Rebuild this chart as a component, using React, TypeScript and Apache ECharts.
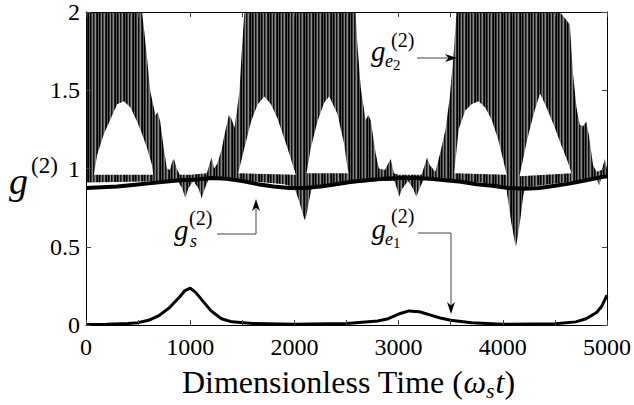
import React, { useEffect, useRef } from 'react';
import * as echarts from 'echarts';

// ---- data ----
const xLabelTicks = [0, 1000, 2000, 3000, 4000, 5000];
const yLabelTicks = [0, 0.5, 1, 1.5, 2];

// g_e2^(2): upper envelope of the fast oscillation (clipped at 2)
const ge2Upper: [number, number][] = [
  [0, 2], [538, 2], [570, 1.81], [618, 1.49], [666, 1.34], [690, 1.36], [712, 1.3], [746, 1.13],
  [777, 1.0], [805, 0.99], [830, 1.05], [845, 1.06], [870, 1.0], [900, 0.96], [1000, 0.96],
  [1160, 0.97], [1190, 1.04], [1207, 1.07], [1228, 1.0], [1260, 1.03], [1300, 1.12], [1340, 1.25],
  [1370, 1.34], [1395, 1.32], [1425, 1.26], [1450, 1.38], [1472, 1.49], [1500, 1.8], [1520, 2],
  [2588, 2], [2604, 1.8], [2636, 1.52], [2683, 1.31], [2710, 1.34], [2732, 1.31], [2779, 1.1],
  [2810, 1.0], [2870, 0.99], [2906, 1.04], [2925, 1.06], [2955, 0.97], [3000, 0.96], [3220, 0.96],
  [3250, 1.02], [3273, 1.07], [3300, 1.02], [3353, 0.98], [3400, 1.1], [3450, 1.25], [3490, 1.45],
  [3530, 1.75], [3555, 2], [4548, 2], [4643, 1.92], [4675, 1.6], [4707, 1.39], [4739, 1.28],
  [4770, 1.27], [4802, 1.3], [4830, 1.2], [4866, 1.02], [4900, 0.98], [4950, 0.99], [4980, 1.06],
  [5000, 1.0],
];

// g_e2^(2): lower envelope
const ge2Lower: [number, number][] = [
  [0, 0.91], [880, 0.92], [925, 0.87], [953, 0.81], [980, 0.87], [1030, 0.92], [1080, 0.87],
  [1110, 0.81], [1140, 0.87], [1175, 0.93], [1400, 0.93], [1900, 0.9], [2000, 0.88], [2045, 0.79],
  [2090, 0.69], [2100, 0.67], [2115, 0.7], [2140, 0.79], [2170, 0.88], [2800, 0.92], [2960, 0.92],
  [2985, 0.87], [3005, 0.82], [3035, 0.87], [3090, 0.92], [3140, 0.87], [3170, 0.82], [3200, 0.87],
  [3240, 0.93], [3800, 0.91], [4030, 0.88], [4050, 0.8], [4080, 0.66], [4110, 0.55], [4125, 0.5],
  [4140, 0.55], [4165, 0.66], [4195, 0.82], [4215, 0.88], [4700, 0.92], [4900, 0.94], [4925, 0.89],
  [4945, 0.94], [5000, 0.95],
];

// empty (white) gaps inside the g_e2 band: upper edge of each gap
const gapTopA: [number, number][] = [
  [76, 0.96], [108, 1.09], [172, 1.22], [252, 1.34], [299, 1.41], [363, 1.43], [427, 1.39],
  [490, 1.3], [538, 1.22], [586, 1.13], [634, 1.02], [645, 0.96],
];
const gapTopB1: [number, number][] = [
  [1460, 0.97], [1472, 1.0], [1520, 1.13], [1584, 1.3], [1648, 1.41], [1711, 1.46], [1775, 1.41],
  [1838, 1.32], [1934, 1.13], [2014, 0.96],
];
const gapTopB2: [number, number][] = [
  [2115, 0.97], [2125, 1.0], [2157, 1.13], [2221, 1.3], [2285, 1.42], [2333, 1.46], [2349, 1.44],
  [2412, 1.35], [2476, 1.16], [2508, 1.01], [2520, 0.97],
];
const gapTopC1: [number, number][] = [
  [3535, 0.97], [3543, 1.03], [3576, 1.25], [3640, 1.37], [3700, 1.41], [3767, 1.43], [3831, 1.39],
  [3894, 1.31], [3958, 1.18], [4006, 1.05], [4037, 0.96],
];
const gapTopC2: [number, number][] = [
  [4160, 0.95], [4229, 1.17], [4293, 1.34], [4357, 1.48], [4420, 1.39], [4500, 1.26], [4560, 1.15],
  [4620, 1.05], [4660, 0.97],
];
// lower edge of each gap
const gapBottomA: [number, number][] = [[76, 0.96], [645, 0.96]];
const gapBottomB1: [number, number][] = [[1460, 0.97], [2014, 0.96]];
const gapBottomB2: [number, number][] = [[2115, 0.97], [2520, 0.97]];
const gapBottomC1: [number, number][] = [[3535, 0.97], [4037, 0.96]];
const gapBottomC2: [number, number][] = [[4160, 0.95], [4660, 0.97]];

// g_s^(2)
const gs: [number, number][] = [
  [0, 0.875], [150, 0.88], [300, 0.885], [450, 0.895], [600, 0.905], [750, 0.915], [900, 0.925],
  [1050, 0.93], [1200, 0.94], [1350, 0.935], [1500, 0.92], [1650, 0.9], [1800, 0.885], [1950, 0.875],
  [2100, 0.875], [2250, 0.885], [2400, 0.9], [2550, 0.915], [2700, 0.925], [2850, 0.935], [3000, 0.94],
  [3150, 0.94], [3300, 0.935], [3450, 0.925], [3600, 0.915], [3750, 0.9], [3900, 0.89], [4050, 0.875],
  [4200, 0.87], [4350, 0.875], [4500, 0.89], [4650, 0.905], [4800, 0.925], [4950, 0.945], [5000, 0.95],
];

// g_e1^(2)
const ge1: [number, number][] = [
  [0, 0.003], [200, 0.005], [400, 0.01], [500, 0.015], [600, 0.03], [700, 0.06], [800, 0.11],
  [900, 0.18], [950, 0.22], [1000, 0.235], [1050, 0.21], [1100, 0.17], [1200, 0.09], [1300, 0.04],
  [1400, 0.02], [1600, 0.01], [2000, 0.005], [2500, 0.01], [2800, 0.025], [2900, 0.04], [3000, 0.07],
  [3100, 0.09], [3200, 0.085], [3300, 0.065], [3400, 0.045], [3500, 0.03], [3700, 0.015], [4000, 0.005],
  [4500, 0.008], [4700, 0.02], [4800, 0.04], [4900, 0.08], [4950, 0.12], [5000, 0.19],
];

const SERIF = 'serif';

function makeStripePattern() {
  const c = document.createElement('canvas');
  const cols = ['#000', '#3a3a3a', '#808080', '#111', '#4a4a4a', '#8c8c8c', '#222', '#000', '#5a5a5a'];
  c.width = cols.length;
  c.height = 4;
  const ctx = c.getContext('2d')!;
  cols.forEach((col, i) => {
    ctx.fillStyle = col;
    ctx.fillRect(i, 0, 1, 4);
  });
  return { image: c, repeat: 'repeat' as const };
}

function txt(str: string, x: number, baseline: number, size: number, italic = false) {
  return {
    type: 'text',
    silent: true,
    style: {
      text: str,
      x,
      y: baseline - 0.33 * size,
      fontSize: size,
      fontFamily: SERIF,
      fontStyle: italic ? 'italic' : 'normal',
      fill: '#000',
      align: 'left',
      textAlign: 'left',
      verticalAlign: 'middle',
      textVerticalAlign: 'middle',
    },
    z: 50,
  };
}

function measure(str: string, size: number, italic = false) {
  const c = document.createElement('canvas').getContext('2d')!;
  c.font = `${italic ? 'italic ' : ''}${size}px ${SERIF}`;
  return c.measureText(str).width;
}

export default function App() {
  const ref = useRef<HTMLDivElement>(null);
  useEffect(() => {
    const el = ref.current!;
    const chart = echarts.init(el, undefined, { renderer: 'svg' });
    const stripes = makeStripePattern();

    const fill = (name: string, data: [number, number][], color: any) => ({
      name,
      type: 'line',
      data,
      showSymbol: false,
      symbol: 'none',
      silent: true,
      lineStyle: { width: 0, opacity: 0 },
      areaStyle: { color, opacity: 1, origin: 'start' },
      z: 2,
    });

    // x-axis title built from pieces
    const tSize = 32;
    const subSize = 22;
    const p1 = 'Dimensionless Time (';
    const w1 = measure(p1, tSize);
    const w2 = measure('ω', tSize, true);
    const w3 = measure('s', subSize, true);
    const w4 = measure('t', tSize, true);
    const w5 = measure(')', tSize);
    const total = w1 + w2 + w3 + 1 + w4 + w5;
    const x0 = 348.5 - total / 2;
    const base = 393;

    const graphics: any[] = [
      txt(p1, x0, base, tSize),
      txt('ω', x0 + w1, base, tSize, true),
      txt('s', x0 + w1 + w2, base + 5, subSize, true),
      txt('t', x0 + w1 + w2 + w3 + 1, base, tSize, true),
      txt(')', x0 + w1 + w2 + w3 + 1 + w4, base, tSize),
      // y axis name g^(2)
      txt('g', 9, 194, 38, true),
      txt('(2)', 31, 173, 23),
      // g_e2 label
      txt('g', 371, 61, 29, true),
      txt('(2)', 391, 47, 20),
      txt('e', 385, 67, 18, true),
      txt('2', 393, 70, 15),
      // g_s label
      txt('g', 174, 240, 29, true),
      txt('(2)', 189, 225, 20),
      txt('s', 190, 247, 18, true),
      // g_e1 label
      txt('g', 371.5, 239, 29, true),
      txt('(2)', 391, 223, 20),
      txt('e', 385, 245, 18, true),
      txt('1', 393, 248, 15),
      // arrows
      { type: 'polyline', silent: true, z: 50, shape: { points: [[417, 58], [450, 58]] }, style: { stroke: '#444', lineWidth: 1, fill: null } },
      { type: 'polygon', silent: true, z: 50, shape: { points: [[457, 58], [445, 54], [448.5, 58], [445, 62]] }, style: { fill: '#000' } },
      { type: 'polyline', silent: true, z: 50, shape: { points: [[217, 234], [256, 234], [256, 207]] }, style: { stroke: '#444', lineWidth: 1, fill: null } },
      { type: 'polygon', silent: true, z: 50, shape: { points: [[256, 199], [252, 211], [256, 207.5], [260, 211]] }, style: { fill: '#000' } },
      { type: 'polyline', silent: true, z: 50, shape: { points: [[418, 233], [451, 233], [451, 306]] }, style: { stroke: '#444', lineWidth: 1, fill: null } },
      { type: 'polygon', silent: true, z: 50, shape: { points: [[451, 314], [447, 302], [451, 305.5], [455, 302]] }, style: { fill: '#000' } },
    ];

    const axisCommon = {
      min: 0,
      axisLine: { show: true, onZero: false, lineStyle: { color: '#000', width: 1 } },
      axisTick: { show: true, inside: true, length: 5, lineStyle: { color: '#444' } },
      splitLine: { show: false },
      z: 10,
    };

    const option: any = {
      animation: false,
      backgroundColor: '#fff',
      textStyle: { fontFamily: SERIF },
      grid: { left: 86, right: 25, top: 12, bottom: 80, containLabel: false },
      xAxis: [
        {
          ...axisCommon,
          type: 'value',
          max: 5000,
          interval: 500,
          position: 'bottom',
          axisLabel: {
            color: '#000',
            fontFamily: SERIF,
            fontSize: 24,
            margin: 10,
            formatter: (v: number) => (xLabelTicks.includes(v) ? String(v) : ''),
          },
        },
        { ...axisCommon, type: 'value', max: 5000, interval: 500, position: 'top', axisLabel: { show: false } },
      ],
      yAxis: [
        {
          ...axisCommon,
          type: 'value',
          max: 2,
          interval: 0.5,
          position: 'left',
          axisLabel: {
            color: '#000',
            fontFamily: SERIF,
            fontSize: 24,
            margin: 6,
            formatter: (v: number) => (yLabelTicks.includes(v) ? String(v) : ''),
          },
        },
        { ...axisCommon, type: 'value', max: 2, interval: 0.5, position: 'right', axisLabel: { show: false } },
      ],
      graphic: graphics,
      series: [
        fill('ge2 upper', ge2Upper, stripes),
        fill('gap A', gapTopA, '#fff'),
        fill('gap B1', gapTopB1, '#fff'),
        fill('gap B2', gapTopB2, '#fff'),
        fill('gap C1', gapTopC1, '#fff'),
        fill('gap C2', gapTopC2, '#fff'),
        fill('gap A base', gapBottomA, stripes),
        fill('gap B1 base', gapBottomB1, stripes),
        fill('gap B2 base', gapBottomB2, stripes),
        fill('gap C1 base', gapBottomC1, stripes),
        fill('gap C2 base', gapBottomC2, stripes),
        fill('ge2 lower', ge2Lower, '#fff'),
        { name: 'g_s', type: 'line', data: gs, showSymbol: false, symbol: 'none', silent: true, lineStyle: { color: '#000', width: 4 }, z: 3 },
        { name: 'g_e1', type: 'line', data: ge1, showSymbol: false, symbol: 'none', silent: true, lineStyle: { color: '#000', width: 3 }, z: 3 },
      ],
    };
    chart.setOption(option);
    return () => chart.dispose();
  }, []);
  return (
    <div ref={ref} style={{ width: 634, height: 405, position: 'absolute', left: 0, top: 0, background: '#fff' }} />
  );
}
